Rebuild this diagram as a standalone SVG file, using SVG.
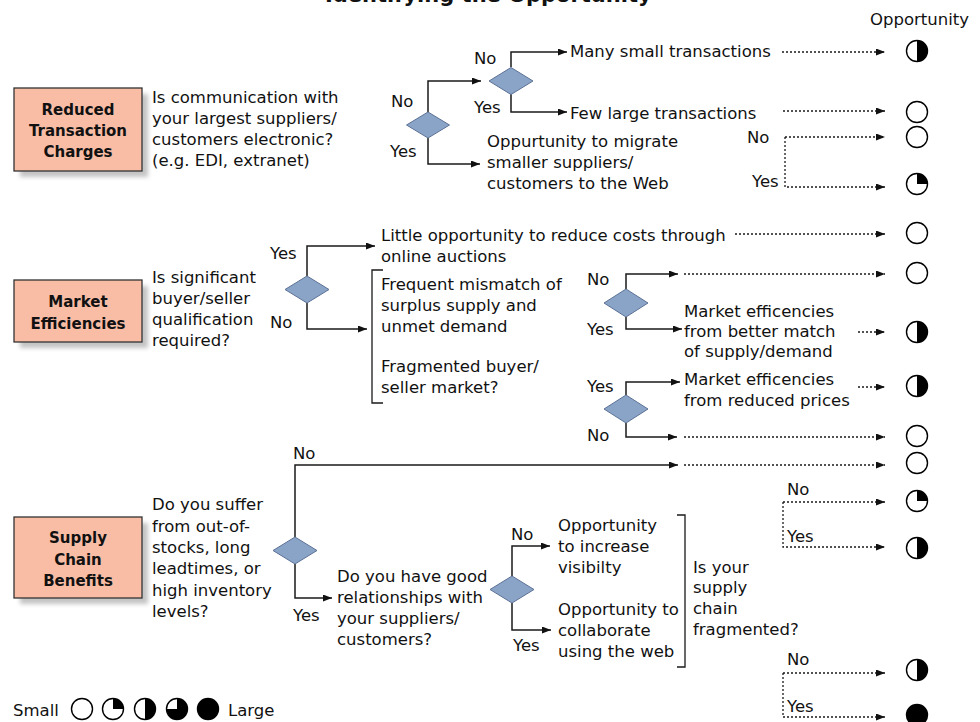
<svg xmlns="http://www.w3.org/2000/svg" width="980" height="722" viewBox="0 0 980 722">
<style>
text{font-family:"DejaVu Sans","Liberation Sans",sans-serif;font-size:16.5px;fill:#111}
.t{font-weight:bold;font-size:21px}
.b{font-weight:bold;font-size:15px;text-anchor:middle}
.box{fill:#f9bda6;stroke:#333;stroke-width:1.3}
.shd{fill:#c4c4c4;filter:url(#blur)}
.dia{fill:#8aa4c8;stroke:#5d7296;stroke-width:1}
.c{fill:none;stroke:#1a1a1a;stroke-width:1.5;marker-end:url(#ah)}
.d{fill:none;stroke:#1a1a1a;stroke-width:1.3;stroke-dasharray:2 2}
.da{marker-end:url(#ah)}
.br{fill:none;stroke:#1a1a1a;stroke-width:1.3}
.ring{fill:#fff;stroke:#000;stroke-width:1.4}
.blk{fill:#000}
</style>
<defs>
<filter id="blur" x="-20%" y="-20%" width="140%" height="140%"><feGaussianBlur stdDeviation="2"/></filter>
<marker id="ah" markerUnits="userSpaceOnUse" markerWidth="10" markerHeight="8" refX="9" refY="3.5" orient="auto"><path d="M0,0 L9,3.5 L0,7 Z" fill="#111"/></marker>
<g id="c0"><circle class="ring" r="10.5"/></g>
<g id="c1"><circle class="ring" r="10.5"/><path class="blk" d="M0,0 V-10.5 A10.5,10.5 0 0 1 10.5,0 Z"/></g>
<g id="c2"><circle class="ring" r="10.5"/><path class="blk" d="M0,-10.5 A10.5,10.5 0 0 1 0,10.5 Z"/></g>
<g id="c3"><circle class="ring" r="10.5"/><path class="blk" d="M0,0 V-10.5 A10.5,10.5 0 1 1 -10.5,0 Z"/></g>
<g id="c4"><circle r="10.5" fill="#000" stroke="#000" stroke-width="1.4"/></g>
</defs>
<rect width="980" height="722" fill="#fff"/>

<text class="t" x="325" y="2">Identifying the Opportunity</text>
<text x="870" y="25">Opportunity</text>

<g id="connectors">
<path class="c" d="M428,112 V81 H481"/>
<path class="c" d="M428,138 V164 H480"/>
<path class="c" d="M511,67 V52 H567"/>
<path class="c" d="M511,94 V112 H567"/>
<path class="d da" d="M782,52 H885"/>
<path class="d da" d="M783,111 H885"/>
<path class="d da" d="M785,137 H885"/>
<path class="d da" d="M785,137 V187 H885"/>

<path class="c" d="M307,276 V246 H375"/>
<path class="c" d="M307,303 V329 H367"/>
<path class="d da" d="M735,234 H885"/>
<path class="c" d="M626,289 V274 H678"/>
<path class="d da" d="M684,274 H885"/>
<path class="c" d="M626,317 V329 H682"/>
<path class="d da" d="M858,332 H885"/>
<path class="c" d="M626,395 V382 H680"/>
<path class="d da" d="M858,387 H885"/>
<path class="c" d="M626,423 V437 H677"/>
<path class="d da" d="M684,437 H885"/>

<path class="c" d="M295,537 V465 H678"/>
<path class="d da" d="M684,465 H885"/>
<path class="c" d="M295,564 V598 H332"/>
<path class="c" d="M512,576 V546 H550"/>
<path class="c" d="M512,603 V630 H551"/>
<path class="d da" d="M783,502 H885"/>
<path class="d da" d="M783,502 V547 H885"/>
<path class="d da" d="M783,673 H885"/>
<path class="d da" d="M783,673 V717 H885"/>
</g>

<g id="box-reduced">
<rect class="shd" x="20" y="94" width="128" height="83"/>
<rect class="box" x="14" y="88" width="128" height="83"/>
<text class="b" x="78" y="115">Reduced</text>
<text class="b" x="78" y="136">Transaction</text>
<text class="b" x="78" y="157">Charges</text>
</g>
<g id="q-electronic">
<text x="152" y="103">Is communication with</text>
<text x="152" y="124">your largest suppliers/</text>
<text x="152" y="145">customers electronic?</text>
<text x="152" y="166">(e.g. EDI, extranet)</text>
</g>
<g id="d1"><path class="dia" d="M406.5,125 L428,112 L449.5,125 L428,138 Z"/>
<text x="391" y="107">No</text><text x="390" y="157">Yes</text></g>
<g id="d2"><path class="dia" d="M489,81 L511,67.5 L533,81 L511,94.5 Z"/>
<text x="474" y="64">No</text><text x="474" y="113">Yes</text></g>
<g id="o-many"><text x="570" y="57">Many small transactions</text></g>
<g id="o-few"><text x="570" y="119">Few large transactions</text></g>
<g id="o-migrate">
<text x="487" y="147">Oppurtunity to migrate</text>
<text x="487" y="168">smaller suppliers/</text>
<text x="487" y="189">customers to the Web</text>
<text x="747" y="143">No</text>
<text x="752" y="187">Yes</text>
</g>
<g id="r1"><use href="#c2" x="917" y="51"/></g>
<g id="r2"><use href="#c0" x="917" y="112"/></g>
<g id="r3"><use href="#c0" x="917" y="137"/></g>
<g id="r4"><use href="#c1" x="917" y="184"/></g>

<g id="box-market">
<rect class="shd" x="20" y="286" width="128" height="62"/>
<rect class="box" x="14" y="280" width="128" height="62"/>
<text class="b" x="78" y="307">Market</text>
<text class="b" x="78" y="329">Efficiencies</text>
</g>
<g id="q-qualification">
<text x="152" y="283">Is significant</text>
<text x="152" y="304">buyer/seller</text>
<text x="152" y="325">qualification</text>
<text x="152" y="346">required?</text>
</g>
<g id="d3"><path class="dia" d="M285,289.5 L307,276 L329,289.5 L307,303 Z"/>
<text x="270" y="259">Yes</text><text x="270" y="328">No</text></g>
<g id="o-auctions">
<text x="381" y="241">Little opportunity to reduce costs through</text>
<text x="381" y="262">online auctions</text>
</g>
<g id="bracket-market">
<path class="br" d="M383,270 H372 V403 H383"/>
<text x="381" y="290">Frequent mismatch of</text>
<text x="381" y="311">surplus supply and</text>
<text x="381" y="332">unmet demand</text>
<text x="381" y="372">Fragmented buyer/</text>
<text x="381" y="393">seller market?</text>
</g>
<g id="d4"><path class="dia" d="M604,303 L626,289 L648,303 L626,317 Z"/>
<text x="587" y="285">No</text><text x="587" y="335">Yes</text></g>
<g id="o-match">
<text x="684" y="317">Market efficencies</text>
<text x="684" y="337">from better match</text>
<text x="684" y="357">of supply/demand</text>
</g>
<g id="d5"><path class="dia" d="M604,409 L626,395 L648,409 L626,423 Z"/>
<text x="587" y="392">Yes</text><text x="587" y="441">No</text></g>
<g id="o-prices">
<text x="684" y="385">Market efficencies</text>
<text x="684" y="406">from reduced prices</text>
</g>
<g id="r5"><use href="#c0" x="917" y="233"/></g>
<g id="r6"><use href="#c0" x="917" y="273"/></g>
<g id="r7"><use href="#c2" x="917" y="332"/></g>
<g id="r8"><use href="#c2" x="917" y="386"/></g>
<g id="r9"><use href="#c0" x="917" y="436"/></g>

<g id="box-supply">
<rect class="shd" x="20" y="523" width="128" height="81"/>
<rect class="box" x="14" y="517" width="128" height="81"/>
<text class="b" x="78" y="543">Supply</text>
<text class="b" x="78" y="565">Chain</text>
<text class="b" x="78" y="586">Benefits</text>
</g>
<g id="q-stocks">
<text x="152" y="510">Do you suffer</text>
<text x="152" y="532">from out-of-</text>
<text x="152" y="553">stocks, long</text>
<text x="152" y="574">leadtimes, or</text>
<text x="152" y="596">high inventory</text>
<text x="152" y="617">levels?</text>
</g>
<g id="d6"><path class="dia" d="M273,550.5 L295,537 L317,550.5 L295,564 Z"/>
<text x="293" y="459">No</text><text x="293" y="621">Yes</text></g>
<g id="q-relationships">
<text x="337" y="582">Do you have good</text>
<text x="337" y="603">relationships with</text>
<text x="337" y="624">your suppliers/</text>
<text x="337" y="645">customers?</text>
</g>
<g id="d7"><path class="dia" d="M490,589.5 L512,576 L534,589.5 L512,603 Z"/>
<text x="511" y="540">No</text><text x="513" y="651">Yes</text></g>
<g id="o-visibility">
<text x="558" y="531">Opportunity</text>
<text x="558" y="552">to increase</text>
<text x="558" y="573">visibilty</text>
</g>
<g id="o-collaborate">
<text x="558" y="615">Opportunity to</text>
<text x="558" y="636">collaborate</text>
<text x="558" y="657">using the web</text>
</g>
<g id="bracket-supply">
<path class="br" d="M677,515 H685 V667 H677"/>
<text x="693" y="573">Is your</text>
<text x="693" y="593">supply</text>
<text x="693" y="614">chain</text>
<text x="693" y="635">fragmented?</text>
</g>
<g id="branch-labels">
<text x="787" y="495">No</text>
<text x="787" y="542">Yes</text>
<text x="787" y="665">No</text>
<text x="787" y="712">Yes</text>
</g>
<g id="r10"><use href="#c0" x="917" y="463"/></g>
<g id="r11"><use href="#c1" x="917" y="501"/></g>
<g id="r12"><use href="#c2" x="917" y="548"/></g>
<g id="r13"><use href="#c2" x="917" y="670"/></g>
<g id="r14"><use href="#c4" x="917" y="715"/></g>

<g id="legend">
<text x="13" y="716">Small</text>
<use href="#c0" x="82" y="709"/>
<use href="#c1" x="113" y="709"/>
<use href="#c2" x="145" y="709"/>
<use href="#c3" x="177" y="709"/>
<use href="#c4" x="208" y="709"/>
<text x="228" y="716">Large</text>
</g>
</svg>
